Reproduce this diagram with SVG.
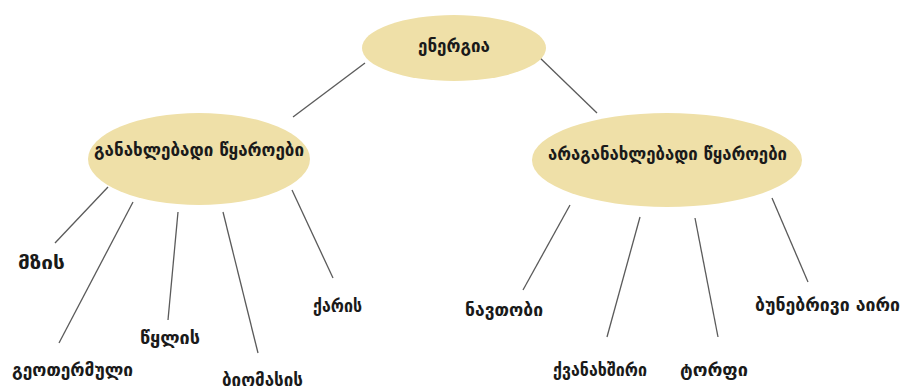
<svg xmlns="http://www.w3.org/2000/svg" width="903" height="392" viewBox="0 0 903 392">
<style>
.node ellipse{fill:#efe0a8;stroke:none}
.t{font-family:"DejaVu Sans","Noto Sans",sans-serif;font-size:17px;font-weight:bold;fill:#1a1a1a}
.conn line{stroke:#5a5a5a;stroke-width:1.3}
</style>
<rect width="903" height="392" fill="#ffffff"/>
<g class="conn">
<line x1="293" y1="117" x2="365" y2="63"/>
<line x1="537" y1="55" x2="597" y2="113"/>
<line x1="108" y1="187" x2="55" y2="243"/>
<line x1="133" y1="202" x2="59" y2="343"/>
<line x1="178" y1="212" x2="168" y2="320"/>
<line x1="223" y1="212" x2="258" y2="353"/>
<line x1="292" y1="190" x2="333" y2="278"/>
<line x1="570" y1="205" x2="523" y2="290"/>
<line x1="640" y1="217" x2="607" y2="337"/>
<line x1="695" y1="218" x2="718" y2="337"/>
<line x1="772" y1="198" x2="808" y2="282"/>
</g>
<g id="energia" class="node"><ellipse cx="454" cy="48" rx="92" ry="33"/><text class="t" x="418" y="52" textLength="72" lengthAdjust="spacingAndGlyphs">ენერგია</text></g>
<g id="renewable" class="node"><ellipse cx="199" cy="159" rx="111" ry="46"/><text class="t" x="94" y="156" textLength="210" lengthAdjust="spacingAndGlyphs">განახლებადი წყაროები</text></g>
<g id="nonrenewable" class="node"><ellipse cx="667" cy="160" rx="135" ry="47"/><text class="t" x="548" y="160" textLength="239" lengthAdjust="spacingAndGlyphs">არაგანახლებადი წყაროები</text></g>
<g id="mzis"><text class="t" x="18" y="269" textLength="47" lengthAdjust="spacingAndGlyphs">მზის</text></g>
<g id="geotermuli"><text class="t" x="12" y="376" textLength="121" lengthAdjust="spacingAndGlyphs">გეოთერმული</text></g>
<g id="tsklis"><text class="t" x="140" y="344" textLength="60" lengthAdjust="spacingAndGlyphs">წყლის</text></g>
<g id="biomasis"><text class="t" x="222" y="386" textLength="81" lengthAdjust="spacingAndGlyphs">ბიომასის</text></g>
<g id="karis"><text class="t" x="313" y="312" textLength="49" lengthAdjust="spacingAndGlyphs">ქარის</text></g>
<g id="navtobi"><text class="t" x="465" y="316" textLength="78" lengthAdjust="spacingAndGlyphs">ნავთობი</text></g>
<g id="kvanakhshiri"><text class="t" x="553" y="376" textLength="94" lengthAdjust="spacingAndGlyphs">ქვანახშირი</text></g>
<g id="torpi"><text class="t" x="680" y="376" textLength="68" lengthAdjust="spacingAndGlyphs">ტორფი</text></g>
<g id="bunebrivi"><text class="t" x="755" y="311" textLength="145" lengthAdjust="spacingAndGlyphs">ბუნებრივი აირი</text></g>
</svg>
